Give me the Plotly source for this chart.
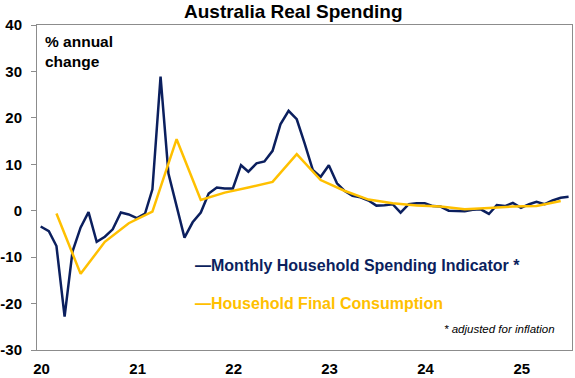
import pandas as pd
import plotly.graph_objects as go

# ---- data ----
months = (pd.date_range("2020-01-01", periods=67, freq="MS") + pd.Timedelta(days=14)).strftime("%Y-%m-%d").tolist()
mhsi = [-3.4, -4.4, -7.6, -22.8, -8.8, -3.6, -0.3, -6.7, -5.6, -4.0, -0.4, -0.8,
        -1.6, -0.6, 4.6, 28.9, 8.0, 1.2, -5.8, -2.5, -0.4, 3.7, 5.0, 4.8,
        4.8, 9.8, 8.4, 10.2, 10.6, 12.9, 18.6, 21.5, 19.7, 14.5, 8.8, 7.3,
        9.8, 5.9, 4.3, 3.2, 2.9, 2.2, 1.1, 1.2, 1.4, -0.4, 1.4, 1.6,
        1.6, 1.0, 0.9, 0.0, 0.0, -0.1, 0.2, 0.3, -0.7, 1.2, 1.0, 1.7,
        0.6, 1.4, 1.9, 1.4, 2.2, 2.8, 3.0]
quarters = (pd.date_range("2020-03-01", periods=22, freq="3MS") + pd.Timedelta(days=14)).strftime("%Y-%m-%d").tolist()
hfce = [-0.6, -13.6, -6.7, -2.7, -0.2, 15.4, 2.3, 3.9, 5.0, 6.2, 12.2, 6.6,
        4.3, 2.4, 1.6, 1.1, 0.9, 0.3, 0.6, 0.9, 1.0, 2.1]
year_labels = ["20", "21", "22", "23", "24", "25"]
year_label_pos = ["2020-01-18", "2021-01-18", "2022-01-18", "2023-01-18", "2024-01-18", "2025-01-18"]
year_ticks = ["2020-01-01", "2021-01-01", "2022-01-01", "2023-01-01", "2024-01-01", "2025-01-01"]
y_ticks = [-30, -20, -10, 0, 10, 20, 30, 40]
y_tick_text = ["-30", "-20", "-10", "0", "10", "20", "30", "40"]

NAVY = "#0B1F5E"
GOLD = "#FFC000"
GREY = "#8C8C8C"
FONT = "Liberation Sans, Arial, sans-serif"
xrange = ["2020-01-01", "2025-07-28"]

fig = go.Figure()
fig.add_trace(go.Scatter(x=months, y=mhsi, mode="lines", line=dict(color=NAVY, width=2.5),
                         name="Monthly Household Spending Indicator *", showlegend=False))
fig.add_trace(go.Scatter(x=quarters, y=hfce, mode="lines", line=dict(color=GOLD, width=2.5),
                         name="Household Final Consumption", showlegend=False))

fig.update_layout(
    width=575, height=378,
    margin=dict(l=37, r=3, t=25, b=28),
    paper_bgcolor="white", plot_bgcolor="white",
    font=dict(family=FONT, color="black"),
    xaxis=dict(type="date", range=xrange, showgrid=False, zeroline=False, automargin=False,
               showline=True, mirror=True, linecolor=GREY, linewidth=1,
               tickmode="array", tickvals=year_label_pos, ticktext=year_labels,
               ticks="", ticklabelstandoff=5,
               tickfont=dict(family=FONT, size=15, color="black", weight="bold")),
    xaxis2=dict(type="date", range=xrange, overlaying="x", matches="x", anchor="free",
                position=40 / 70, showgrid=False, zeroline=False, showline=True, automargin=False,
                linecolor=GREY, linewidth=1, tickmode="array", tickvals=year_ticks,
                ticks="outside", ticklen=4, tickcolor=GREY, showticklabels=False),
    yaxis=dict(range=[-30, 40], tickmode="array", tickvals=y_ticks, ticktext=y_tick_text,
               showgrid=False, zeroline=False, showline=True, mirror=True, automargin=False,
               linecolor=GREY, linewidth=1,
               ticks="outside", ticklen=5, tickcolor=GREY, ticklabelstandoff=6,
               tickfont=dict(family=FONT, size=15, color="black", weight="bold")),
)

fig.add_annotation(text="<b>Australia Real Spending</b>", xref="paper", yref="paper",
                   x=(293 - 37) / 535, y=(350 - 11) / 325, xanchor="center", yanchor="middle",
                   showarrow=False, font=dict(family=FONT, size=19, color="black"))
fig.add_annotation(text="<b>% annual<br>change</b>", xref="paper", yref="paper",
                   x=(43 - 37) / 535, y=(350 - 31) / 325, xanchor="left", yanchor="top", align="left",
                   showarrow=False, font=dict(family=FONT, size=15.5, color="black"))
fig.add_annotation(text="<b>\u2014Monthly Household Spending Indicator *</b>", xref="paper", yref="paper",
                   x=(193 - 37) / 535, y=(350 - 265) / 325, xanchor="left", yanchor="middle",
                   showarrow=False, font=dict(family=FONT, size=16, color=NAVY))
fig.add_annotation(text="<b>\u2014Household Final Consumption</b>", xref="paper", yref="paper",
                   x=(193 - 37) / 535, y=(350 - 303.5) / 325, xanchor="left", yanchor="middle",
                   showarrow=False, font=dict(family=FONT, size=16, color=GOLD))
fig.add_annotation(text="<i>* adjusted for inflation</i>", xref="paper", yref="paper",
                   x=(557 - 37) / 535, y=(350 - 328.5) / 325, xanchor="right", yanchor="middle",
                   showarrow=False, font=dict(family=FONT, size=11.5, color="black"))

fig.write_html("out.html", config={"displayModeBar": False},
               post_script="document.body.style.margin='0';")
